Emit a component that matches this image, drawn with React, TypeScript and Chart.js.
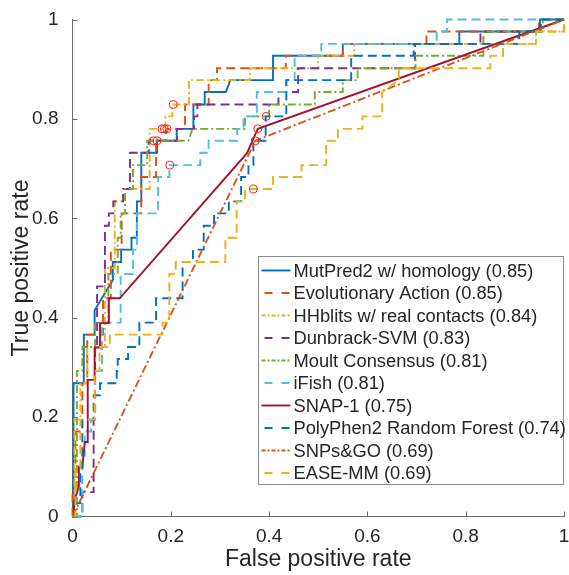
import { useEffect, useRef } from "react";
import { Chart, registerables } from "chart.js";

Chart.register(...registerables);

// ---------- data ----------
const seriesLabels = [
  "MutPred2 w/ homology (0.85)",
  "Evolutionary Action (0.85)",
  "HHblits w/ real contacts (0.84)",
  "Dunbrack-SVM (0.83)",
  "Moult Consensus (0.81)",
  "iFish (0.81)",
  "SNAP-1 (0.75)",
  "PolyPhen2 Random Forest (0.74)",
  "SNPs&GO (0.69)",
  "EASE-MM (0.69)",
];

const xTickValues = [0, 0.2, 0.4, 0.6, 0.8, 1];
const xTickLabels = ["0", "0.2", "0.4", "0.6", "0.8", "1"];
const yTickValues = [0, 0.2, 0.4, 0.6, 0.8, 1];
const yTickLabels = ["0", "0.2", "0.4", "0.6", "0.8", "1"];

const mutPred2: [number, number][] = [
  [0, 0], [0.002, 0], [0.002, 0.268], [0.023, 0.268], [0.023, 0.366], [0.045, 0.366], [0.045, 0.415],
  [0.082, 0.476], [0.082, 0.512], [0.099, 0.512], [0.099, 0.537], [0.12, 0.537], [0.12, 0.561],
  [0.131, 0.561], [0.131, 0.634], [0.14, 0.634], [0.14, 0.732], [0.172, 0.732], [0.172, 0.756],
  [0.212, 0.756], [0.212, 0.78], [0.246, 0.78], [0.246, 0.829], [0.269, 0.829], [0.269, 0.854],
  [0.312, 0.854], [0.321, 0.878], [0.408, 0.878], [0.408, 0.927], [0.55, 0.927], [0.55, 0.951],
  [0.787, 0.951], [0.787, 0.976], [0.951, 0.976], [0.951, 1], [1, 1],
];

const evolutionaryAction: [number, number][] = [
  [0, 0], [0, 0.049], [0.006, 0.049], [0.006, 0.171], [0.02, 0.171], [0.02, 0.268], [0.03, 0.268],
  [0.03, 0.366], [0.062, 0.366], [0.062, 0.439], [0.078, 0.439], [0.078, 0.537], [0.1, 0.537],
  [0.1, 0.61], [0.14, 0.61], [0.14, 0.683], [0.17, 0.683], [0.17, 0.756], [0.19, 0.756], [0.19, 0.78],
  [0.229, 0.78], [0.229, 0.829], [0.277, 0.829], [0.277, 0.878], [0.294, 0.878], [0.294, 0.902],
  [0.434, 0.902], [0.434, 0.927], [0.55, 0.927], [0.55, 0.951], [0.72, 0.951], [0.72, 0.976],
  [0.95, 0.976], [0.95, 1], [1, 1],
];

const hhblits: [number, number][] = [
  [0, 0], [0.004, 0], [0.004, 0.195], [0.016, 0.195], [0.016, 0.268], [0.03, 0.268], [0.03, 0.341],
  [0.066, 0.341], [0.066, 0.5], [0.086, 0.5], [0.086, 0.634], [0.107, 0.634], [0.107, 0.659],
  [0.157, 0.659], [0.157, 0.78], [0.189, 0.78], [0.189, 0.805], [0.203, 0.805], [0.203, 0.829],
  [0.237, 0.829], [0.237, 0.878], [0.361, 0.878], [0.361, 0.902], [0.5, 0.902], [0.5, 0.927],
  [0.573, 0.927], [0.573, 0.951], [0.943, 0.951], [0.943, 0.976], [1, 0.976], [1, 1],
];

const dunbrackSvm: [number, number][] = [
  [0, 0], [0.02, 0], [0.02, 0.049], [0.043, 0.049], [0.043, 0.195], [0.046, 0.195], [0.046, 0.341],
  [0.05, 0.341], [0.05, 0.463], [0.066, 0.463], [0.066, 0.585], [0.074, 0.585], [0.074, 0.61],
  [0.083, 0.61], [0.083, 0.634], [0.103, 0.634], [0.103, 0.659], [0.117, 0.659], [0.117, 0.732],
  [0.155, 0.732], [0.155, 0.756], [0.213, 0.756], [0.213, 0.78], [0.247, 0.78], [0.247, 0.805],
  [0.254, 0.805], [0.254, 0.829], [0.419, 0.829], [0.419, 0.854], [0.459, 0.854], [0.459, 0.902],
  [0.697, 0.902], [0.697, 0.951], [0.83, 0.951], [0.83, 0.976], [0.95, 0.976], [0.95, 1], [1, 1],
];

const moultConsensus: [number, number][] = [
  [0, 0], [0.009, 0], [0.009, 0.293], [0.02, 0.293], [0.02, 0.341], [0.046, 0.341], [0.046, 0.39],
  [0.073, 0.39], [0.073, 0.488], [0.092, 0.488], [0.092, 0.561], [0.098, 0.561], [0.098, 0.61],
  [0.107, 0.61], [0.107, 0.659], [0.123, 0.659], [0.123, 0.707], [0.152, 0.707], [0.152, 0.756],
  [0.236, 0.756], [0.244, 0.78], [0.351, 0.78], [0.351, 0.805], [0.4, 0.805], [0.4, 0.829],
  [0.493, 0.829], [0.493, 0.854], [0.55, 0.854], [0.55, 0.878], [0.58, 0.878], [0.58, 0.902],
  [0.698, 0.902], [0.698, 0.927], [0.836, 0.927], [0.836, 0.976], [0.957, 0.976], [0.957, 1], [1, 1],
];

const iFish: [number, number][] = [
  [0, 0], [0.02, 0], [0.02, 0.122], [0.025, 0.122], [0.025, 0.171], [0.038, 0.171], [0.038, 0.195],
  [0.046, 0.195], [0.046, 0.293], [0.06, 0.293], [0.06, 0.39], [0.098, 0.39], [0.098, 0.488],
  [0.123, 0.488], [0.123, 0.537], [0.131, 0.537], [0.131, 0.61], [0.174, 0.61], [0.174, 0.683],
  [0.197, 0.683], [0.197, 0.707], [0.26, 0.707], [0.26, 0.732], [0.277, 0.732], [0.277, 0.756],
  [0.335, 0.756], [0.335, 0.78], [0.348, 0.78], [0.348, 0.805], [0.375, 0.805], [0.375, 0.854],
  [0.435, 0.854], [0.435, 0.878], [0.452, 0.878], [0.452, 0.927], [0.506, 0.927], [0.506, 0.951],
  [0.741, 0.951], [0.741, 0.976], [0.762, 0.976], [0.762, 1], [1, 1],
];

const snap1: [number, number][] = [
  [0, 0], [0.003, 0], [0.003, 0.03], [0.013, 0.06], [0.013, 0.1], [0.02, 0.1], [0.025, 0.15],
  [0.031, 0.15], [0.031, 0.275], [0.045, 0.275], [0.045, 0.34], [0.056, 0.34], [0.056, 0.389],
  [0.074, 0.389], [0.074, 0.439], [0.096, 0.439], [0.355, 0.731], [0.377, 0.78], [1, 1],
];

const polyPhen2: [number, number][] = [
  [0, 0], [0.004, 0], [0.004, 0.027], [0.016, 0.027], [0.016, 0.098], [0.02, 0.098], [0.02, 0.195],
  [0.043, 0.195], [0.043, 0.244], [0.056, 0.244], [0.056, 0.268], [0.09, 0.268], [0.09, 0.293],
  [0.092, 0.293], [0.092, 0.317], [0.113, 0.317], [0.113, 0.341], [0.136, 0.341], [0.136, 0.39],
  [0.17, 0.39], [0.17, 0.439], [0.224, 0.439], [0.224, 0.512], [0.245, 0.512], [0.245, 0.537],
  [0.267, 0.537], [0.267, 0.585], [0.288, 0.585], [0.288, 0.61], [0.318, 0.61], [0.318, 0.634],
  [0.343, 0.634], [0.343, 0.683], [0.358, 0.683], [0.358, 0.707], [0.368, 0.707], [0.368, 0.756],
  [0.393, 0.756], [0.393, 0.805], [0.435, 0.805], [0.435, 0.878], [0.567, 0.878], [0.567, 0.927],
  [0.694, 0.927], [0.694, 0.951], [0.909, 0.951], [0.909, 0.976], [0.953, 0.976], [0.953, 1], [1, 1],
];

const snpsAndGo: [number, number][] = [[0, 0], [0.372, 0.756], [1, 1]];

const easeMm: [number, number][] = [
  [0, 0], [0.006, 0], [0.006, 0.098], [0.016, 0.098], [0.016, 0.195], [0.045, 0.195], [0.045, 0.293],
  [0.055, 0.293], [0.055, 0.341], [0.076, 0.341], [0.076, 0.366], [0.183, 0.366], [0.183, 0.39],
  [0.197, 0.39], [0.197, 0.488], [0.21, 0.488], [0.21, 0.512], [0.311, 0.512], [0.311, 0.561],
  [0.334, 0.561], [0.334, 0.634], [0.351, 0.634], [0.351, 0.659], [0.408, 0.659], [0.408, 0.683],
  [0.466, 0.683], [0.466, 0.707], [0.516, 0.707], [0.516, 0.756], [0.54, 0.756], [0.54, 0.78],
  [0.59, 0.78], [0.59, 0.805], [0.63, 0.805], [0.63, 0.854], [0.664, 0.878], [0.664, 0.902],
  [0.85, 0.902], [0.85, 0.927], [0.876, 0.927], [0.876, 0.951], [0.943, 0.951], [0.943, 0.976],
  [1, 0.976], [1, 1],
];

const cutoffPoints: [number, number][] = [
  [0.205, 0.829], [0.182, 0.78], [0.187, 0.78], [0.192, 0.78], [0.165, 0.756], [0.172, 0.756],
  [0.198, 0.707], [0.377, 0.78], [0.372, 0.756], [0.368, 0.659], [0.394, 0.805],
];

const seriesData = [
  mutPred2, evolutionaryAction, hhblits, dunbrackSvm, moultConsensus,
  iFish, snap1, polyPhen2, snpsAndGo, easeMm,
];

// ---------- styles ----------
const SOLID: number[] = [];
const DASHED = [9, 5];
const DASHDOT = [8, 3, 2, 3];
const seriesColors = [
  "#0072BD", "#D95319", "#EDB120", "#7E2F8E", "#77AC30",
  "#4DBEEE", "#A2142F", "#0072BD", "#D95319", "#EDB120",
];
const seriesDashes = [SOLID, DASHED, DASHDOT, DASHED, DASHDOT, DASHED, SOLID, DASHED, DASHDOT, DASHED];
const FONT = "'Liberation Sans', Arial, Helvetica, sans-serif";
const TEXT_COLOR = "#262626";
const AXIS_COLOR = "#6b6b6b";

const inwardTicks = {
  id: "inwardTicks",
  afterDraw(chart: any) {
    const { ctx, chartArea, scales } = chart;
    ctx.save();
    ctx.strokeStyle = AXIS_COLOR;
    ctx.lineWidth = 1;
    ctx.setLineDash([]);
    xTickValues.forEach((v) => {
      const px = Math.round(scales.x.getPixelForValue(v)) + 0.5;
      ctx.beginPath();
      ctx.moveTo(px, chartArea.bottom);
      ctx.lineTo(px, chartArea.bottom - 5);
      ctx.stroke();
    });
    yTickValues.forEach((v) => {
      const py = Math.round(scales.y.getPixelForValue(v)) + 0.5;
      ctx.beginPath();
      ctx.moveTo(chartArea.left, py);
      ctx.lineTo(chartArea.left + 5, py);
      ctx.stroke();
    });
    ctx.restore();
  },
};

const boxLegend = {
  id: "boxLegend",
  afterDraw(chart: any) {
    const { ctx, chartArea } = chart;
    const left = chartArea.left + 186;
    const top = chartArea.top + 237;
    const right = chartArea.right - 0.5;
    const bottom = chartArea.top + 465;
    ctx.save();
    ctx.fillStyle = "#ffffff";
    ctx.fillRect(left, top, right - left, bottom - top);
    ctx.strokeStyle = "#8a8a8a";
    ctx.lineWidth = 1;
    ctx.setLineDash([]);
    ctx.strokeRect(left, top, right - left, bottom - top);
    ctx.font = `18.3px ${FONT}`;
    ctx.textBaseline = "middle";
    ctx.textAlign = "left";
    seriesLabels.forEach((label, i) => {
      const y = top + 14 + i * 22.5;
      ctx.strokeStyle = seriesColors[i];
      ctx.lineWidth = 1.9;
      ctx.setLineDash(seriesDashes[i].length ? (seriesDashes[i] === DASHED ? [8, 9] : [4, 2, 2, 2]) : []);
      ctx.lineDashOffset = seriesDashes[i] === DASHED ? -3 : 0;
      ctx.beginPath();
      ctx.moveTo(left + 3, y);
      ctx.lineTo(left + 32, y);
      ctx.stroke();
      ctx.setLineDash([]);
      ctx.fillStyle = TEXT_COLOR;
      ctx.fillText(label, left + 35, y + 1);
    });
    ctx.restore();
  },
};

export default function App() {
  const canvasRef = useRef<HTMLCanvasElement | null>(null);

  useEffect(() => {
    if (!canvasRef.current) return;
    Chart.defaults.font.family = FONT;
    Chart.defaults.color = TEXT_COLOR;

    const datasets: any[] = seriesData.map((series, i) => ({
      type: "line",
      label: seriesLabels[i],
      data: series.map(([x, y]) => ({ x, y })),
      borderColor: seriesColors[i],
      borderWidth: 1.9,
      borderDash: seriesDashes[i],
      pointRadius: 0,
      fill: false,
      tension: 0,
      clip: false,
      order: 20 - i,
    }));
    datasets.push({
      type: "scatter",
      label: "cutoff",
      data: cutoffPoints.map(([x, y]) => ({ x, y })),
      showLine: false,
      pointRadius: 4,
      pointStyle: "circle",
      borderColor: "#FF2020",
      backgroundColor: "rgba(0,0,0,0)",
      borderWidth: 1,
      clip: false,
      order: 0,
    });

    const chart = new Chart(canvasRef.current, {
      type: "line",
      data: { datasets },
      options: {
        animation: false,
        responsive: false,
        devicePixelRatio: 1,
        layout: { padding: { top: 19.5, right: 1, bottom: 0, left: 0 } },
        plugins: { legend: { display: false }, tooltip: { enabled: false } },
        scales: {
          x: {
            type: "linear",
            min: 0,
            max: 1,
            afterBuildTicks: (s: any) => {
              s.ticks = xTickValues.map((v) => ({ value: v }));
            },
            afterFit: (s: any) => {
              s.height = 58.5;
              s.paddingLeft = 0;
              s.paddingRight = 0;
            },
            ticks: {
              autoSkip: false,
              maxRotation: 0,
              padding: 1,
              font: { size: 19 },
              color: TEXT_COLOR,
              callback: (_v: any, i: number) => xTickLabels[i],
            },
            grid: { display: false },
            border: { display: true, color: AXIS_COLOR, width: 1 },
            title: {
              display: true,
              text: "False positive rate",
              font: { size: 23 },
              color: TEXT_COLOR,
              padding: { top: 0, bottom: 2 },
            },
          },
          y: {
            type: "linear",
            min: 0,
            max: 1,
            afterBuildTicks: (s: any) => {
              s.ticks = yTickValues.map((v) => ({ value: v }));
            },
            afterFit: (s: any) => {
              s.width = 72.5;
              s.paddingTop = 0;
              s.paddingBottom = 0;
            },
            ticks: {
              autoSkip: false,
              padding: 6,
              font: { size: 19 },
              color: TEXT_COLOR,
              callback: (_v: any, i: number) => yTickLabels[i],
            },
            grid: { display: false },
            border: { display: true, color: AXIS_COLOR, width: 1 },
            title: {
              display: true,
              text: "True positive rate",
              font: { size: 23 },
              color: TEXT_COLOR,
              padding: { top: 8, bottom: 0 },
            },
          },
        },
      },
      plugins: [inwardTicks, boxLegend],
    } as any);

    return () => chart.destroy();
  }, []);

  return (
    <div style={{ position: "fixed", left: 0, top: 0, width: 569, height: 575, background: "#fff" }}>
      <canvas ref={canvasRef} width={569} height={575} style={{ display: "block" }} />
    </div>
  );
}
